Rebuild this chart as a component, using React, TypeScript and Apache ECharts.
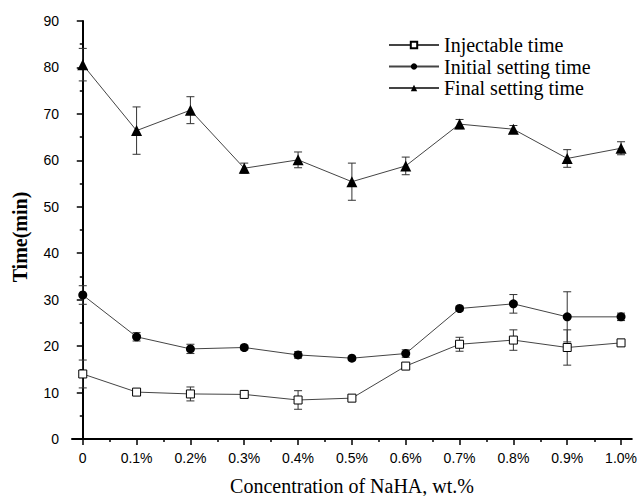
import React, { useEffect, useRef } from "react";
import * as echarts from "echarts";

const concentrations = [0, 0.1, 0.2, 0.3, 0.4, 0.5, 0.6, 0.7, 0.8, 0.9, 1.0];
const xTickLabels = ["0", "0.1%", "0.2%", "0.3%", "0.4%", "0.5%", "0.6%", "0.7%", "0.8%", "0.9%", "1.0%"];
const minorXTicks = [0.05, 0.15, 0.25, 0.35, 0.45, 0.55, 0.65, 0.75, 0.85, 0.95];

const injectable = [14.0, 10.1, 9.7, 9.6, 8.4, 8.8, 15.7, 20.4, 21.3, 19.7, 20.7];
const injectableErr = [3.0, 0.3, 1.5, 0.3, 2.0, 0.3, 0.5, 1.5, 2.2, 3.8, 0.4];
const initialSetting = [31.0, 22.0, 19.4, 19.7, 18.1, 17.4, 18.4, 28.1, 29.1, 26.3, 26.3];
const initialErr = [2.0, 0.9, 1.0, 0.5, 0.7, 0.4, 0.8, 0.5, 2.0, 5.4, 0.8];
const finalSetting = [80.6, 66.4, 70.8, 58.3, 60.1, 55.4, 58.8, 67.8, 66.7, 60.4, 62.6];
const finalErr = [3.5, 5.1, 2.9, 1.1, 1.7, 4.0, 1.9, 1.0, 0.8, 1.9, 1.4];

const seriesNames = ["Injectable time", "Initial setting time", "Final setting time"];

const GRID = { left: 72, right: 8, top: 21, bottom: 57 };
const SERIF = "'Liberation Serif', 'DejaVu Serif', serif";
const SANS = "'Liberation Sans', Arial, sans-serif";

function errorSeries(values: number[], errs: number[]) {
  return {
    type: "custom",
    xAxisIndex: 0,
    yAxisIndex: 0,
    z: 1,
    silent: true,
    data: concentrations.map((x, i) => [x, values[i], errs[i]]),
    encode: { x: 0, y: 1 },
    renderItem: (params: any, api: any) => {
      const x = api.value(0);
      const y = api.value(1);
      const e = api.value(2);
      const top = api.coord([x, y + e]);
      const bot = api.coord([x, y - e]);
      const cap = 4;
      const style = { stroke: "#333", lineWidth: 1 };
      return {
        type: "group",
        children: [
          { type: "line", shape: { x1: top[0], y1: top[1], x2: bot[0], y2: bot[1] }, style },
          { type: "line", shape: { x1: top[0] - cap, y1: top[1], x2: top[0] + cap, y2: top[1] }, style },
          { type: "line", shape: { x1: bot[0] - cap, y1: bot[1], x2: bot[0] + cap, y2: bot[1] }, style },
        ],
      };
    },
  };
}

function lineSeries(name: string, values: number[], symbol: string, size: number, filled: boolean) {
  return {
    name,
    type: "line",
    xAxisIndex: 0,
    yAxisIndex: 0,
    z: 3,
    symbol,
    symbolSize: size,
    showAllSymbol: true,
    data: concentrations.map((x, i) => [x, values[i]]),
    lineStyle: { color: "#444", width: 1 },
    itemStyle: filled
      ? { color: "#000", borderColor: "#000", borderWidth: 0 }
      : { color: "#fff", borderColor: "#000", borderWidth: 1 },
  };
}

export default function App() {
  const ref = useRef<HTMLDivElement>(null);
  useEffect(() => {
    if (!ref.current) return;
    const chart = echarts.init(ref.current, undefined, { renderer: "svg" });
    const axisLine = { show: true, lineStyle: { color: "#000", width: 2 } };
    chart.setOption({
      animation: false,
      backgroundColor: "#fff",
      grid: [
        { ...GRID, containLabel: false },
        { ...GRID, containLabel: false },
      ],
      legend: {
        data: seriesNames,
        orient: "vertical",
        left: 388,
        top: 35,
        padding: 0,
        itemWidth: 50,
        itemHeight: 8,
        itemGap: 1.5,
        itemTextGap: 4,
        textStyle: { fontFamily: SERIF, fontSize: 20, color: "#000", lineHeight: 20 },
      },
      xAxis: [
        {
          type: "value",
          gridIndex: 0,
          min: -0.02,
          max: 1.02,
          axisLine,
          splitLine: { show: false },
          axisTick: {
            show: true,
            length: 6,
            customValues: concentrations,
            lineStyle: { color: "#000", width: 1.5 },
          },
          axisLabel: {
            customValues: concentrations,
            margin: 12,
            fontFamily: SANS,
            fontSize: 14,
            color: "#000",
            formatter: (v: number) => {
              const idx = Math.round(v * 10);
              return xTickLabels[idx] ?? "";
            },
          },
        },
        {
          type: "value",
          gridIndex: 1,
          min: -0.02,
          max: 1.02,
          axisLine: { show: false },
          splitLine: { show: false },
          axisLabel: { show: false },
          axisTick: {
            show: true,
            length: 3,
            customValues: minorXTicks,
            lineStyle: { color: "#000", width: 1.5 },
          },
        },
      ],
      yAxis: [
        {
          type: "value",
          gridIndex: 0,
          min: 0,
          max: 90,
          interval: 10,
          axisLine,
          splitLine: { show: false },
          axisTick: { show: true, length: 6, lineStyle: { color: "#000", width: 1.5 } },
          minorTick: { show: true, splitNumber: 2, length: 3, lineStyle: { color: "#000", width: 1.5 } },
          minorSplitLine: { show: false },
          axisLabel: {
            margin: 13,
            fontFamily: SANS,
            fontSize: 14,
            color: "#000",
          },
        },
        {
          type: "value",
          gridIndex: 1,
          min: 0,
          max: 90,
          show: false,
        },
      ],
      graphic: [
        {
          type: "text",
          x: 20,
          y: 237,
          rotation: Math.PI / 2,
          style: {
            text: "Time(min)",
            fontFamily: SERIF,
            fontWeight: "bold",
            fontSize: 20,
            fill: "#000",
            align: "center",
            verticalAlign: "middle",
          },
        },
        {
          type: "text",
          x: 352,
          y: 486,
          style: {
            text: "Concentration of NaHA, wt.%",
            fontFamily: SERIF,
            fontSize: 20,
            fill: "#000",
            align: "center",
            verticalAlign: "middle",
          },
        },
      ],
      series: [
        errorSeries(injectable, injectableErr),
        errorSeries(initialSetting, initialErr),
        errorSeries(finalSetting, finalErr),
        lineSeries(seriesNames[0], injectable, "rect", 8, false),
        lineSeries(seriesNames[1], initialSetting, "circle", 9, true),
        lineSeries(seriesNames[2], finalSetting, "triangle", 11, true),
      ],
    });
    return () => chart.dispose();
  }, []);
  return (
    <div
      ref={ref}
      style={{ position: "absolute", left: 0, top: 0, width: 640, height: 496 }}
    />
  );
}
